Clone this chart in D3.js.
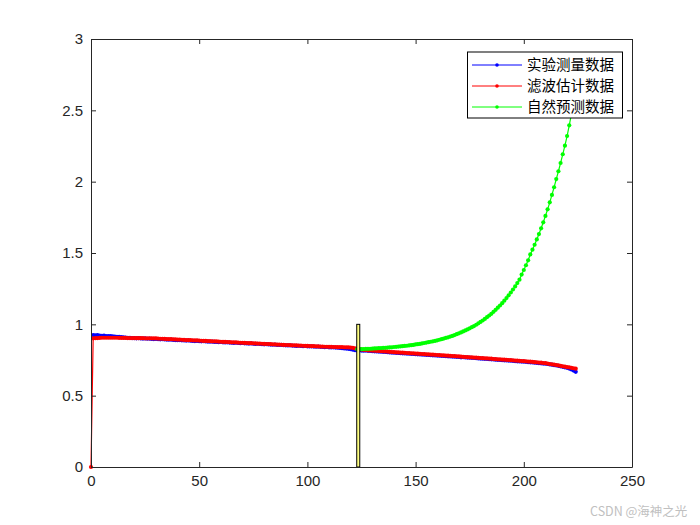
<!DOCTYPE html>
<html>
<head>
<meta charset="utf-8">
<script src="https://cdn.jsdelivr.net/npm/d3@7"></script>
<style>
html,body{margin:0;padding:0;background:#fff;}
svg{display:block;}
</style>
</head>
<body>
<svg id="chart" width="700" height="525"></svg>
<script>
// ---------- data ----------
const seriesNames = ["实验测量数据", "滤波估计数据", "自然预测数据"];
const seriesColors = ["#0000ff", "#ff0000", "#00ff00"];
const xTicks = [0, 50, 100, 150, 200, 250];
const yTicks = [0, 0.5, 1, 1.5, 2, 2.5, 3];
const yTickLabels = ["0", "0.5", "1", "1.5", "2", "2.5", "3"];

// measured data, x = 1..224
const measuredStart = 1;
const measured = [
0.925,0.923,0.924,0.921,0.920,0.921,0.918,0.917,0.918,0.915,
0.914,0.912,0.913,0.910,0.909,0.907,0.906,0.905,0.904,0.903,
0.902,0.903,0.901,0.900,0.901,0.899,0.900,0.898,0.897,0.898,
0.896,0.895,0.896,0.894,0.893,0.892,0.893,0.891,0.890,0.889,
0.890,0.888,0.887,0.886,0.887,0.885,0.884,0.883,0.884,0.882,
0.881,0.882,0.880,0.879,0.878,0.879,0.877,0.876,0.875,0.876,
0.874,0.873,0.874,0.872,0.871,0.870,0.871,0.869,0.868,0.869,
0.867,0.866,0.865,0.866,0.864,0.863,0.864,0.862,0.861,0.860,
0.861,0.859,0.858,0.857,0.858,0.856,0.855,0.856,0.854,0.853,
0.852,0.853,0.851,0.850,0.849,0.850,0.848,0.847,0.848,0.846,
0.845,0.846,0.844,0.843,0.844,0.842,0.841,0.840,0.841,0.839,
0.838,0.839,0.837,0.836,0.834,0.833,0.831,0.830,0.828,0.826,
0.822,0.819,0.817,0.818,0.816,0.815,0.816,0.814,0.813,0.812,
0.811,0.810,0.809,0.808,0.807,0.806,0.805,0.803,0.802,0.801,
0.800,0.799,0.798,0.797,0.796,0.795,0.794,0.793,0.792,0.791,
0.790,0.789,0.788,0.787,0.786,0.785,0.784,0.783,0.782,0.781,
0.780,0.779,0.778,0.777,0.776,0.775,0.774,0.773,0.772,0.771,
0.769,0.770,0.768,0.767,0.766,0.765,0.764,0.763,0.761,0.760,
0.759,0.758,0.757,0.756,0.755,0.754,0.752,0.751,0.750,0.749,
0.748,0.747,0.746,0.745,0.744,0.742,0.741,0.740,0.739,0.738,
0.737,0.735,0.734,0.733,0.731,0.730,0.728,0.727,0.725,0.724,
0.722,0.719,0.717,0.714,0.712,0.709,0.706,0.702,0.699,0.695,
0.690,0.684,0.676,0.667
];

// filtered estimate, x = 0..224
const filteredStart = 0;
const filtered = [
0,
0.902,0.903,0.904,0.905,0.906,0.906,0.906,0.906,0.906,0.906,
0.906,0.906,0.905,0.905,0.905,0.905,0.904,0.904,0.904,0.904,
0.903,0.903,0.903,0.903,0.902,0.902,0.902,0.902,0.901,0.901,
0.900,0.899,0.899,0.898,0.897,0.896,0.896,0.895,0.894,0.893,
0.893,0.892,0.891,0.890,0.890,0.889,0.888,0.887,0.887,0.886,
0.885,0.884,0.884,0.883,0.882,0.881,0.881,0.880,0.879,0.878,
0.877,0.877,0.876,0.875,0.874,0.874,0.873,0.872,0.871,0.871,
0.870,0.869,0.868,0.868,0.867,0.866,0.865,0.865,0.864,0.863,
0.862,0.862,0.861,0.860,0.859,0.858,0.858,0.857,0.856,0.855,
0.855,0.854,0.853,0.853,0.852,0.851,0.851,0.850,0.849,0.849,
0.848,0.847,0.847,0.846,0.845,0.844,0.844,0.843,0.843,0.842,
0.842,0.841,0.841,0.840,0.840,0.840,0.839,0.839,0.838,0.837,
0.835,0.832,0.828,0.825,0.823,0.821,0.820,0.818,0.817,0.816,
0.815,0.814,0.813,0.812,0.811,0.810,0.809,0.807,0.806,0.805,
0.804,0.803,0.802,0.801,0.800,0.799,0.798,0.797,0.796,0.795,
0.794,0.793,0.792,0.791,0.790,0.789,0.788,0.787,0.786,0.785,
0.784,0.783,0.782,0.781,0.780,0.779,0.778,0.777,0.776,0.775,
0.773,0.772,0.771,0.770,0.769,0.768,0.767,0.766,0.765,0.764,
0.763,0.762,0.761,0.760,0.759,0.757,0.756,0.755,0.754,0.753,
0.752,0.751,0.750,0.749,0.748,0.746,0.745,0.744,0.743,0.742,
0.741,0.739,0.738,0.737,0.735,0.734,0.732,0.731,0.729,0.728,
0.725,0.722,0.720,0.717,0.715,0.712,0.709,0.706,0.703,0.700,
0.698,0.695,0.692,0.689
];

// natural prediction, x = 123..223
const predictedStart = 123;
const predicted = [
0.825,0.826,0.826,0.827,0.828,0.828,0.829,0.830,0.831,0.832,
0.833,0.834,0.835,0.836,0.837,0.838,0.839,0.841,0.842,0.844,
0.845,0.847,0.849,0.850,0.852,0.854,0.856,0.859,0.861,0.863,
0.866,0.869,0.872,0.875,0.878,0.881,0.884,0.888,0.892,0.896,
0.900,0.905,0.909,0.914,0.919,0.925,0.931,0.937,0.943,0.950,
0.957,0.964,0.972,0.980,0.988,0.997,1.007,1.017,1.027,1.038,
1.050,1.062,1.074,1.088,1.102,1.117,1.132,1.148,1.166,1.184,
1.203,1.223,1.244,1.266,1.289,1.313,1.349,1.381,1.414,1.449,
1.490,1.523,1.558,1.595,1.633,1.673,1.715,1.760,1.806,1.855,
1.907,1.961,2.018,2.073,2.131,2.192,2.252,2.320,2.395,2.474,
2.559
];

// marker bar at the split point
const splitBar = {x0: 122.8, x1: 124.2, y: 1};

// ---------- chart ----------
const svg = d3.select("#chart");
const W = 700, H = 525;
const margin = {left: 91, right: 68, top: 39, bottom: 58};
const x = d3.scaleLinear().domain([0, 250]).range([margin.left, W - margin.right]);
const y = d3.scaleLinear().domain([0, 3]).range([H - margin.bottom, margin.top]);

svg.append("rect").attr("width", W).attr("height", H).attr("fill", "#fff");

const toPts = (arr, start) => arr.map((v, i) => ({x: start + i, y: v}));
const series = [
  toPts(measured, measuredStart),
  toPts(filtered, filteredStart),
  toPts(predicted, predictedStart)
];

const line = d3.line().x(d => x(d.x)).y(d => y(d.y));

const plot = svg.append("g");
series.forEach((pts, si) => {
  const g = plot.append("g");
  g.append("path").datum(pts)
    .attr("d", line)
    .attr("fill", "none")
    .attr("stroke", seriesColors[si])
    .attr("stroke-width", 1.2);
  g.selectAll("circle").data(pts).join("circle")
    .attr("cx", d => x(d.x))
    .attr("cy", d => y(d.y))
    .attr("r", 2.1)
    .attr("fill", seriesColors[si]);
});

// split bar
plot.append("rect")
  .attr("x", x(splitBar.x0))
  .attr("y", y(splitBar.y))
  .attr("width", x(splitBar.x1) - x(splitBar.x0))
  .attr("height", y(0) - y(splitBar.y))
  .attr("fill", "#ffff80")
  .attr("stroke", "#000")
  .attr("stroke-width", 1);

// axes
const axisColor = "#262626";
const fontFam = "'Liberation Sans', Arial, Helvetica, sans-serif";

const gx = svg.append("g").attr("transform", `translate(0,${y(0)})`)
  .call(d3.axisBottom(x).tickValues(xTicks).tickSize(-5).tickSizeOuter(0).tickPadding(8));
const gxt = svg.append("g").attr("transform", `translate(0,${y(3)})`)
  .call(d3.axisTop(x).tickValues(xTicks).tickSize(-5).tickSizeOuter(0).tickFormat(""));
const gy = svg.append("g").attr("transform", `translate(${x(0)},0)`)
  .call(d3.axisLeft(y).tickValues(yTicks).tickSize(-5).tickSizeOuter(0).tickPadding(8)
    .tickFormat((d, i) => yTickLabels[i]));
const gyr = svg.append("g").attr("transform", `translate(${x(250)},0)`)
  .call(d3.axisRight(y).tickValues(yTicks).tickSize(-5).tickSizeOuter(0).tickFormat(""));

[gx, gxt, gy, gyr].forEach(g => {
  g.selectAll("path.domain").attr("stroke", axisColor).attr("stroke-width", 1);
  g.selectAll(".tick line").attr("stroke", axisColor);
  g.selectAll(".tick text").attr("fill", axisColor)
    .style("font-family", fontFam).style("font-size", "15px");
});

// legend
const lg = svg.append("g");
const lgX0 = 467.5, lgY0 = 52, lgW = 155, lgH = 66;
lg.append("rect").attr("x", lgX0).attr("y", lgY0).attr("width", lgW).attr("height", lgH)
  .attr("fill", "#fff").attr("stroke", "#000").attr("stroke-width", 1);
const rowY = [65, 86, 107];
seriesNames.forEach((name, i) => {
  lg.append("line").attr("x1", 472).attr("x2", 522).attr("y1", rowY[i]).attr("y2", rowY[i])
    .attr("stroke", seriesColors[i]).attr("stroke-width", 1);
  lg.append("circle").attr("cx", 497).attr("cy", rowY[i]).attr("r", 1.8).attr("fill", seriesColors[i]);
  lg.append("text").attr("x", 527).attr("y", rowY[i]).attr("dy", "0.36em")
    .attr("fill", "#000")
    .style("font-family", "'Noto Sans CJK SC', sans-serif")
    .style("font-size", "14.5px")
    .text(name);
});

// watermark
svg.append("text").attr("x", 590).attr("y", 516)
  .attr("fill", "#c0c0c0")
  .style("font-family", "'Noto Sans CJK SC', sans-serif")
  .style("font-size", "12.5px")
  .text("CSDN @海神之光");
</script>
</body>
</html>
